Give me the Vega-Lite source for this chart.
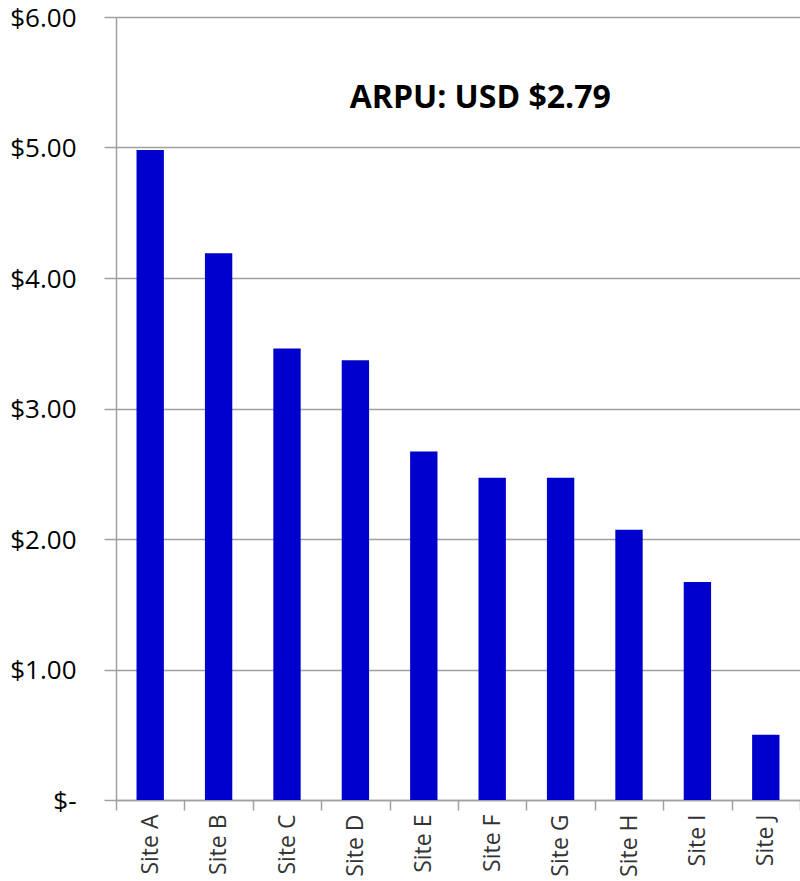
{
  "$schema": "https://vega.github.io/schema/vega-lite/v6.json",
  "autosize": {"type": "none"},
  "width": 684,
  "height": 783,
  "padding": {"left": 116, "top": 17, "right": 0, "bottom": 81},
  "background": "white",
  "config": {"view": {"stroke": null}, "font": "Open Sans"},
  "data": {"values": [
    {"site": "Site A", "arpu": 4.98},
    {"site": "Site B", "arpu": 4.19},
    {"site": "Site C", "arpu": 3.46},
    {"site": "Site D", "arpu": 3.37},
    {"site": "Site E", "arpu": 2.67},
    {"site": "Site F", "arpu": 2.47},
    {"site": "Site G", "arpu": 2.47},
    {"site": "Site H", "arpu": 2.07},
    {"site": "Site I", "arpu": 1.67},
    {"site": "Site J", "arpu": 0.50}
  ]},
  "layer": [
    {
      "mark": {"type": "bar", "color": "#0000CC", "width": {"band": 0.4}},
      "encoding": {
        "x": {
          "field": "site", "type": "nominal", "sort": null,
          "scale": {"paddingInner": 0, "paddingOuter": 0},
          "axis": {
            "title": null, "labelAngle": -90, "labelFontSize": 23, "labelColor": "#333333",
            "labelFont": "Open Sans", "labelPadding": 4, "tickSize": 10, "tickColor": "#a0a0a0",
            "tickWidth": 1.5, "tickBand": "extent", "domainColor": "#a0a0a0", "domainWidth": 1.5,
            "labelBaseline": "middle", "labelAlign": "right", "labelLimit": 200
          }
        },
        "y": {
          "field": "arpu", "type": "quantitative",
          "scale": {"domain": [0, 6], "nice": false},
          "axis": {
            "title": null, "values": [0, 1, 2, 3, 4, 5, 6],
            "labelExpr": "datum.value == 0 ? '$-' : '$' + format(datum.value, '.2f')",
            "labelFontSize": 26, "labelColor": "#000000", "labelPadding": 28, "labelOffset": 1,
            "tickSize": 12, "tickColor": "#a0a0a0", "tickWidth": 1.5,
            "grid": true, "gridColor": "#a0a0a0", "gridWidth": 1.5,
            "domainColor": "#a0a0a0", "domainWidth": 1.5
          }
        }
      }
    },
    {
      "data": {"values": [{"label": "ARPU: USD $2.79"}]},
      "mark": {"type": "text", "fontSize": 32, "fontWeight": "bold", "color": "#000000", "dx": -12, "font": "Open Sans"},
      "encoding": {
        "x": {"datum": "Site F"},
        "y": {"datum": 5.38},
        "text": {"field": "label"}
      }
    }
  ]
}
